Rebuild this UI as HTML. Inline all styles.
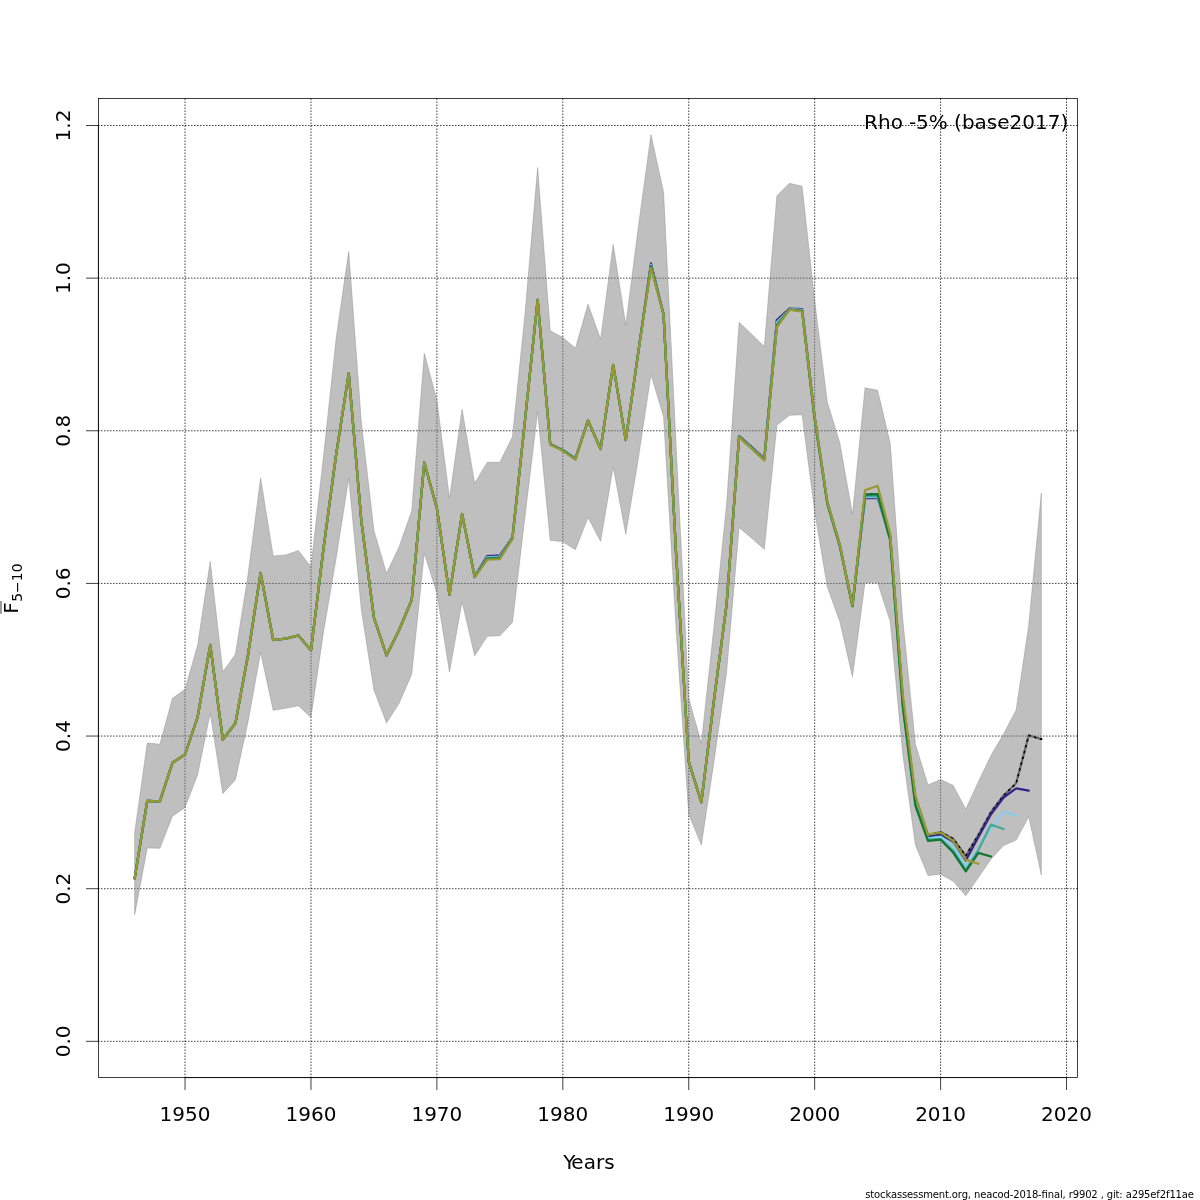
<!DOCTYPE html>
<html lang="en"><head><meta charset="utf-8"><title>Fbar retro</title>
<style>html,body{margin:0;padding:0;background:#fff}body{width:1200px;height:1200px;overflow:hidden}svg{display:block}text{font-family:"DejaVu Sans","Liberation Sans",sans-serif;fill:#000}</style>
</head><body>
<svg width="1200" height="1200" viewBox="0 0 1200 1200">
<rect width="1200" height="1200" fill="#fff"/>
<g stroke="#000" stroke-width="0.75" stroke-dasharray="0.75 2.25" stroke-linecap="round" fill="none">
<line x1="185.04" y1="1077.60" x2="185.04" y2="98.40"/>
<line x1="310.97" y1="1077.60" x2="310.97" y2="98.40"/>
<line x1="436.89" y1="1077.60" x2="436.89" y2="98.40"/>
<line x1="562.82" y1="1077.60" x2="562.82" y2="98.40"/>
<line x1="688.74" y1="1077.60" x2="688.74" y2="98.40"/>
<line x1="814.67" y1="1077.60" x2="814.67" y2="98.40"/>
<line x1="940.60" y1="1077.60" x2="940.60" y2="98.40"/>
<line x1="1066.52" y1="1077.60" x2="1066.52" y2="98.40"/>
<line x1="98.40" y1="1041.33" x2="1077.60" y2="1041.33"/>
<line x1="98.40" y1="888.69" x2="1077.60" y2="888.69"/>
<line x1="98.40" y1="736.05" x2="1077.60" y2="736.05"/>
<line x1="98.40" y1="583.42" x2="1077.60" y2="583.42"/>
<line x1="98.40" y1="430.78" x2="1077.60" y2="430.78"/>
<line x1="98.40" y1="278.14" x2="1077.60" y2="278.14"/>
<line x1="98.40" y1="125.50" x2="1077.60" y2="125.50"/>
</g>
<polygon points="134.67,914.70 147.26,848.00 159.86,848.30 172.45,816.30 185.04,807.50 197.63,774.70 210.23,713.30 222.82,793.70 235.41,779.70 248.00,722.00 260.60,652.50 273.19,710.30 285.78,708.30 298.37,705.80 310.97,717.50 323.56,631.70 336.15,558.30 348.74,478.30 361.34,610.00 373.93,690.00 386.52,723.00 399.11,703.30 411.71,674.20 424.30,553.30 436.89,593.30 449.49,672.00 462.08,601.70 474.67,655.80 487.26,636.20 499.86,635.80 512.45,622.50 525.04,516.00 537.63,411.70 550.23,540.30 562.82,541.70 575.41,549.70 588.00,517.50 600.60,541.30 613.19,467.00 625.78,534.20 638.37,458.30 650.97,374.60 663.56,416.70 676.15,630.00 688.74,814.20 701.34,845.00 713.93,762.00 726.52,673.00 739.11,527.50 751.71,538.30 764.30,549.20 776.89,425.30 789.49,415.30 802.08,414.80 814.67,511.70 827.26,586.70 839.86,621.70 852.45,676.70 865.04,582.50 877.63,582.50 890.23,621.70 902.82,755.00 915.41,845.00 928.00,875.60 940.60,874.20 953.19,881.30 965.78,895.80 978.37,877.50 990.97,859.20 1003.56,845.60 1016.15,840.00 1028.74,816.70 1041.34,875.00 1041.34,493.00 1028.74,625.00 1016.15,710.00 1003.56,734.00 990.97,755.50 978.37,781.70 965.78,809.00 953.19,785.50 940.60,779.50 928.00,785.00 915.41,744.20 902.82,620.00 890.23,443.30 877.63,390.30 865.04,387.80 852.45,514.20 839.86,443.30 827.26,401.70 814.67,300.50 802.08,186.20 789.49,183.30 776.89,195.80 764.30,346.50 751.71,334.20 739.11,322.20 726.52,505.00 713.93,627.00 701.34,743.30 688.74,698.30 676.15,446.00 663.56,192.00 650.97,134.67 638.37,226.70 625.78,325.00 613.19,244.20 600.60,339.20 588.00,304.00 575.41,348.30 562.82,337.50 550.23,330.80 537.63,167.50 525.04,313.30 512.45,436.70 499.86,462.30 487.26,462.30 474.67,483.30 462.08,409.20 449.49,498.30 436.89,400.00 424.30,353.30 411.71,511.00 399.11,546.70 386.52,573.30 373.93,530.50 361.34,422.00 348.74,251.30 336.15,338.30 323.56,455.80 310.97,566.70 298.37,550.60 285.78,555.00 273.19,556.00 260.60,478.00 248.00,575.00 235.41,654.20 222.82,671.70 210.23,561.30 197.63,645.00 185.04,689.20 172.45,698.30 159.86,744.20 147.26,743.00 134.67,832.50" fill="#808080" fill-opacity="0.5" stroke="#808080" stroke-opacity="0.5" stroke-width="0.75" stroke-linejoin="round"/>
<polyline points="134.67,878.30 147.26,800.80 159.86,801.30 172.45,762.80 185.04,754.50 197.63,717.00 210.23,645.00 222.82,739.50 235.41,723.30 248.00,655.00 260.60,573.00 273.19,640.00 285.78,638.70 298.37,635.50 310.97,650.30 323.56,548.00 336.15,454.50 348.74,373.40 361.34,521.00 373.93,617.50 386.52,655.50 399.11,630.00 411.71,600.00 424.30,462.50 436.89,508.30 449.49,594.50 462.08,514.00 474.67,576.50 487.26,556.00 499.86,555.50 512.45,537.50 525.04,420.00 537.63,299.80 550.23,444.20 562.82,450.00 575.41,458.50 588.00,420.50 600.60,449.00 613.19,365.00 625.78,440.00 638.37,351.70 650.97,263.20 663.56,314.50 676.15,555.00 688.74,761.70 701.34,802.30 713.93,700.50 726.52,605.00 739.11,436.00 751.71,447.00 764.30,458.50 776.89,320.20 789.49,308.60 802.08,309.20 814.67,417.00 827.26,501.70 839.86,545.00 852.45,605.50 865.04,494.30 877.63,494.20 890.23,536.50 902.82,699.50 915.41,799.00 928.00,835.00 940.60,832.00 953.19,838.75 965.78,855.80 978.37,835.00 990.97,812.00 1003.56,795.50 1016.15,783.30 1028.74,735.40 1041.34,739.20" fill="none" stroke="#6c6c6c" stroke-width="2.25" stroke-linejoin="round" stroke-linecap="round"/>
<polyline points="134.67,878.30 147.26,800.80 159.86,801.30 172.45,762.80 185.04,754.50 197.63,717.00 210.23,645.00 222.82,739.50 235.41,723.30 248.00,655.00 260.60,573.00 273.19,640.00 285.78,638.70 298.37,635.50 310.97,650.30 323.56,548.00 336.15,454.50 348.74,373.40 361.34,521.00 373.93,617.50 386.52,655.50 399.11,630.00 411.71,600.00 424.30,462.50 436.89,508.30 449.49,594.50 462.08,514.00 474.67,576.50 487.26,556.00 499.86,555.50 512.45,537.50 525.04,420.00 537.63,299.80 550.23,444.20 562.82,450.00 575.41,458.50 588.00,420.50 600.60,449.00 613.19,365.00 625.78,440.00 638.37,351.70 650.97,263.20 663.56,314.50 676.15,555.00 688.74,761.70 701.34,802.30 713.93,700.50 726.52,605.00 739.11,436.00 751.71,447.00 764.30,458.50 776.89,320.20 789.49,308.60 802.08,309.20 814.67,417.00 827.26,501.70 839.86,545.00 852.45,605.50 865.04,494.30 877.63,494.20 890.23,536.50 902.82,699.50 915.41,799.00 928.00,835.00 940.60,832.00 953.19,838.75 965.78,855.80 978.37,835.00 990.97,812.00 1003.56,795.50 1016.15,783.30 1028.74,735.40 1041.34,739.20" fill="none" stroke="#000" stroke-width="1.8" stroke-linejoin="round" stroke-linecap="round" stroke-dasharray="0.9 5.1" stroke-dashoffset="-1.92"/>
<polyline points="134.67,878.30 147.26,800.80 159.86,801.30 172.45,762.80 185.04,754.50 197.63,717.00 210.23,645.00 222.82,739.50 235.41,723.30 248.00,655.00 260.60,573.00 273.19,640.00 285.78,638.70 298.37,635.50 310.97,650.30 323.56,548.00 336.15,454.50 348.74,373.40 361.34,521.00 373.93,617.50 386.52,655.50 399.11,630.00 411.71,600.00 424.30,462.50 436.89,508.30 449.49,594.50 462.08,514.00 474.67,576.60 487.26,556.20 499.86,555.70 512.45,537.60 525.04,420.00 537.63,299.80 550.23,444.20 562.82,450.00 575.41,458.50 588.00,420.50 600.60,449.00 613.19,365.00 625.78,440.00 638.37,351.70 650.97,264.20 663.56,314.50 676.15,555.00 688.74,761.70 701.34,802.30 713.93,700.50 726.52,605.00 739.11,436.20 751.71,447.20 764.30,458.70 776.89,320.40 789.49,308.80 802.08,309.20 814.67,417.00 827.26,501.70 839.86,545.00 852.45,605.50 865.04,498.20 877.63,498.20 890.23,536.50 902.82,699.50 915.41,799.00 928.00,836.70 940.60,834.60 953.19,841.50 965.78,860.40 978.37,837.00 990.97,814.20 1003.56,797.50 1016.15,788.30 1028.74,790.70" fill="none" stroke="#332288" stroke-width="2.25" stroke-linejoin="round" stroke-linecap="round"/>
<polyline points="134.67,878.30 147.26,800.80 159.86,801.30 172.45,762.80 185.04,754.50 197.63,717.00 210.23,645.00 222.82,739.50 235.41,723.30 248.00,655.00 260.60,573.00 273.19,640.00 285.78,638.70 298.37,635.50 310.97,650.30 323.56,548.00 336.15,454.50 348.74,373.40 361.34,521.00 373.93,617.50 386.52,655.50 399.11,630.00 411.71,600.00 424.30,462.50 436.89,508.30 449.49,594.50 462.08,514.00 474.67,576.80 487.26,557.00 499.86,556.50 512.45,537.90 525.04,420.00 537.63,299.80 550.23,444.20 562.82,450.00 575.41,458.50 588.00,420.50 600.60,449.00 613.19,365.00 625.78,440.00 638.37,351.70 650.97,265.00 663.56,314.50 676.15,555.00 688.74,761.70 701.34,802.30 713.93,700.50 726.52,605.00 739.11,436.50 751.71,447.60 764.30,459.20 776.89,322.30 789.49,309.20 802.08,309.80 814.67,417.00 827.26,501.70 839.86,545.00 852.45,605.50 865.04,497.20 877.63,497.20 890.23,538.00 902.82,702.50 915.41,801.50 928.00,838.30 940.60,836.70 953.19,845.80 965.78,866.70 978.37,849.00 990.97,828.75 1003.56,812.00 1016.15,815.30" fill="none" stroke="#88CCEE" stroke-width="2.25" stroke-linejoin="round" stroke-linecap="round"/>
<polyline points="134.67,878.30 147.26,800.80 159.86,801.30 172.45,762.80 185.04,754.50 197.63,717.00 210.23,645.00 222.82,739.50 235.41,723.30 248.00,655.00 260.60,573.00 273.19,640.00 285.78,638.70 298.37,635.50 310.97,650.30 323.56,548.00 336.15,454.50 348.74,373.40 361.34,521.00 373.93,617.50 386.52,655.50 399.11,630.00 411.71,600.00 424.30,462.50 436.89,508.30 449.49,594.50 462.08,514.00 474.67,577.00 487.26,557.80 499.86,557.30 512.45,538.10 525.04,420.00 537.63,299.80 550.23,444.20 562.82,450.00 575.41,458.90 588.00,420.50 600.60,449.00 613.19,365.00 625.78,440.00 638.37,351.70 650.97,265.80 663.56,314.50 676.15,555.00 688.74,761.70 701.34,802.30 713.93,700.50 726.52,605.00 739.11,436.80 751.71,448.00 764.30,459.60 776.89,324.00 789.49,309.50 802.08,310.50 814.67,419.50 827.26,503.70 839.86,546.50 852.45,606.30 865.04,496.20 877.63,496.20 890.23,539.50 902.82,705.00 915.41,804.00 928.00,839.50 940.60,839.00 953.19,850.50 965.78,870.30 978.37,850.00 990.97,824.60 1003.56,829.00" fill="none" stroke="#44AA99" stroke-width="2.25" stroke-linejoin="round" stroke-linecap="round"/>
<polyline points="134.67,878.30 147.26,800.80 159.86,801.30 172.45,762.80 185.04,754.50 197.63,717.00 210.23,645.00 222.82,739.50 235.41,723.30 248.00,655.00 260.60,573.00 273.19,640.00 285.78,638.70 298.37,635.50 310.97,650.30 323.56,548.00 336.15,454.50 348.74,373.40 361.34,521.00 373.93,617.50 386.52,655.50 399.11,630.00 411.71,600.00 424.30,462.50 436.89,508.30 449.49,594.50 462.08,514.00 474.67,577.20 487.26,558.60 499.86,558.10 512.45,538.30 525.04,420.00 537.63,299.80 550.23,444.20 562.82,450.50 575.41,459.20 588.00,420.50 600.60,449.00 613.19,365.00 625.78,440.00 638.37,351.70 650.97,266.50 663.56,314.50 676.15,555.00 688.74,761.70 701.34,802.30 713.93,700.50 726.52,605.00 739.11,437.00 751.71,448.30 764.30,460.00 776.89,326.00 789.49,309.50 802.08,311.20 814.67,419.00 827.26,503.20 839.86,546.20 852.45,606.00 865.04,494.80 877.63,494.20 890.23,540.50 902.82,707.00 915.41,805.50 928.00,840.80 940.60,839.60 953.19,852.50 965.78,871.25 978.37,852.90 990.97,856.50" fill="none" stroke="#117733" stroke-width="2.25" stroke-linejoin="round" stroke-linecap="round"/>
<polyline points="134.67,878.30 147.26,800.80 159.86,801.30 172.45,762.80 185.04,754.50 197.63,717.00 210.23,645.00 222.82,739.50 235.41,723.30 248.00,655.00 260.60,573.00 273.19,640.00 285.78,638.70 298.37,635.50 310.97,650.30 323.56,548.00 336.15,454.50 348.74,373.40 361.34,521.00 373.93,617.50 386.52,655.50 399.11,630.00 411.71,600.00 424.30,462.50 436.89,508.30 449.49,594.50 462.08,514.00 474.67,577.40 487.26,559.70 499.86,559.20 512.45,538.60 525.04,420.00 537.63,299.80 550.23,444.80 562.82,450.80 575.41,459.70 588.00,420.50 600.60,449.00 613.19,365.00 625.78,440.00 638.37,351.70 650.97,268.00 663.56,314.50 676.15,555.00 688.74,761.70 701.34,802.30 713.93,700.50 726.52,605.00 739.11,437.30 751.71,448.60 764.30,460.50 776.89,327.00 789.49,309.60 802.08,311.70 814.67,417.00 827.26,501.70 839.86,545.00 852.45,605.50 865.04,490.30 877.63,485.80 890.23,534.00 902.82,695.00 915.41,795.50 928.00,834.60 940.60,832.50 953.19,840.80 965.78,859.60 978.37,863.75" fill="none" stroke="#999933" stroke-width="2.25" stroke-linejoin="round" stroke-linecap="round"/>
<g stroke="#000" stroke-width="0.75" fill="none" stroke-linecap="round">
<rect x="98.40" y="98.40" width="979.20" height="979.20"/>
<line x1="185.04" y1="1077.60" x2="1066.52" y2="1077.60"/>
<line x1="185.04" y1="1077.60" x2="185.04" y2="1089.60"/>
<line x1="310.97" y1="1077.60" x2="310.97" y2="1089.60"/>
<line x1="436.89" y1="1077.60" x2="436.89" y2="1089.60"/>
<line x1="562.82" y1="1077.60" x2="562.82" y2="1089.60"/>
<line x1="688.74" y1="1077.60" x2="688.74" y2="1089.60"/>
<line x1="814.67" y1="1077.60" x2="814.67" y2="1089.60"/>
<line x1="940.60" y1="1077.60" x2="940.60" y2="1089.60"/>
<line x1="1066.52" y1="1077.60" x2="1066.52" y2="1089.60"/>
<line x1="98.40" y1="1041.33" x2="98.40" y2="125.50"/>
<line x1="98.40" y1="1041.33" x2="86.40" y2="1041.33"/>
<line x1="98.40" y1="888.69" x2="86.40" y2="888.69"/>
<line x1="98.40" y1="736.05" x2="86.40" y2="736.05"/>
<line x1="98.40" y1="583.42" x2="86.40" y2="583.42"/>
<line x1="98.40" y1="430.78" x2="86.40" y2="430.78"/>
<line x1="98.40" y1="278.14" x2="86.40" y2="278.14"/>
<line x1="98.40" y1="125.50" x2="86.40" y2="125.50"/>
</g>
<g font-size="20px">
<text x="185.04" y="1121" text-anchor="middle">1950</text>
<text x="310.97" y="1121" text-anchor="middle">1960</text>
<text x="436.89" y="1121" text-anchor="middle">1970</text>
<text x="562.82" y="1121" text-anchor="middle">1980</text>
<text x="688.74" y="1121" text-anchor="middle">1990</text>
<text x="814.67" y="1121" text-anchor="middle">2000</text>
<text x="940.60" y="1121" text-anchor="middle">2010</text>
<text x="1066.52" y="1121" text-anchor="middle">2020</text>
<text transform="translate(70,1041.33) rotate(-90)" text-anchor="middle">0.0</text>
<text transform="translate(70,888.69) rotate(-90)" text-anchor="middle">0.2</text>
<text transform="translate(70,736.05) rotate(-90)" text-anchor="middle">0.4</text>
<text transform="translate(70,583.42) rotate(-90)" text-anchor="middle">0.6</text>
<text transform="translate(70,430.78) rotate(-90)" text-anchor="middle">0.8</text>
<text transform="translate(70,278.14) rotate(-90)" text-anchor="middle">1.0</text>
<text transform="translate(70,125.50) rotate(-90)" text-anchor="middle">1.2</text>
<text x="563.2" y="1169" dx="0 -1.4">Years</text>
<rect x="0" y="601" width="1.9" height="12.8" fill="#999"/>
<text transform="translate(18,588.6) rotate(-90)" text-anchor="middle">F<tspan font-size="14px" dy="4" dx="0.4">5−10</tspan></text>
<text x="864.1" y="129" dx="0 0 0.1 -0.9 0.5 -0.2">Rho -5% (base2017)</text>
</g>
<text x="865.2" y="1198.3" textLength="328.8" lengthAdjust="spacing" font-size="10px">stockassessment.org, neacod-2018-final, r9902 , git: a295ef2f11ae</text>
</svg>
</body></html>
